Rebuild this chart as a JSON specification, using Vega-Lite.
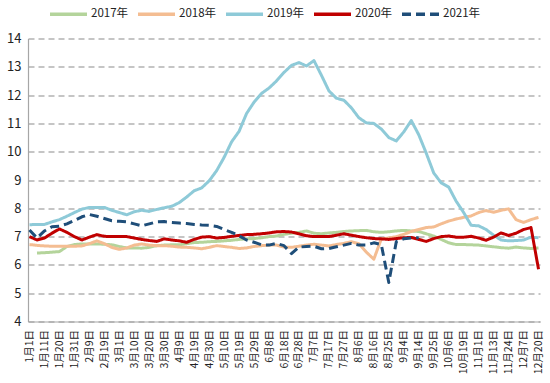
{
  "$schema": "https://vega.github.io/schema/vega-lite/v6.json",
  "width": 512,
  "height": 283,
  "autosize": {"type": "none"},
  "padding": {"left": 28, "top": 38.5, "right": 10, "bottom": 61.5},
  "config": {
    "view": {"stroke": null},
    "font": "Noto Sans CJK SC",
    "legend": {"labelFont": "Noto Sans CJK SC"}
  },
  "data": {
    "values": [
      {"d": "1月1日", "2017年": null, "2018年": 6.72, "2019年": 7.42, "2020年": 7.0, "2021年": 7.23},
      {"d": "1月6日", "2017年": 6.42, "2018年": 6.69, "2019年": 7.43, "2020年": 6.88, "2021年": 6.95},
      {"d": "1月11日", "2017年": 6.43, "2018年": 6.67, "2019年": 7.43, "2020年": 6.95, "2021年": 7.2},
      {"d": "1月15日", "2017年": 6.45, "2018年": 6.66, "2019年": 7.52, "2020年": 7.12, "2021年": 7.35},
      {"d": "1月20日", "2017年": 6.47, "2018年": 6.66, "2019年": 7.6, "2020年": 7.27, "2021年": 7.37},
      {"d": "1月25日", "2017年": 6.65, "2018年": 6.66, "2019年": 7.72, "2020年": 7.15, "2021年": 7.45},
      {"d": "1月31日", "2017年": 6.72, "2018年": 6.66, "2019年": 7.85, "2020年": 7.0, "2021年": 7.57},
      {"d": "2月4日", "2017年": 6.74, "2018年": 6.67, "2019年": 7.97, "2020年": 6.88, "2021年": 7.7},
      {"d": "2月9日", "2017年": 6.74, "2018年": 6.75, "2019年": 8.03, "2020年": 6.98, "2021年": 7.78},
      {"d": "2月14日", "2017年": 6.74, "2018年": 6.85, "2019年": 8.03, "2020年": 7.07, "2021年": 7.72},
      {"d": "2月19日", "2017年": 6.73, "2018年": 6.75, "2019年": 8.03, "2020年": 7.01, "2021年": 7.64},
      {"d": "2月24日", "2017年": 6.71, "2018年": 6.62, "2019年": 7.93, "2020年": 7.0, "2021年": 7.56},
      {"d": "3月1日", "2017年": 6.65, "2018年": 6.55, "2019年": 7.85, "2020年": 7.0, "2021年": 7.54},
      {"d": "3月5日", "2017年": 6.6, "2018年": 6.6, "2019年": 7.77, "2020年": 7.0, "2021年": 7.52},
      {"d": "3月10日", "2017年": 6.6, "2018年": 6.7, "2019年": 7.88, "2020年": 6.95, "2021年": 7.45},
      {"d": "3月15日", "2017年": 6.59, "2018年": 6.74, "2019年": 7.93, "2020年": 6.9, "2021年": 7.38},
      {"d": "3月20日", "2017年": 6.62, "2018年": 6.7, "2019年": 7.89, "2020年": 6.86, "2021年": 7.45},
      {"d": "3月25日", "2017年": 6.68, "2018年": 6.68, "2019年": 7.96, "2020年": 6.83, "2021年": 7.52},
      {"d": "3月30日", "2017年": 6.7, "2018年": 6.68, "2019年": 8.02, "2020年": 6.92, "2021年": 7.53},
      {"d": "4月4日", "2017年": 6.71, "2018年": 6.66, "2019年": 8.07, "2020年": 6.88, "2021年": 7.5},
      {"d": "4月9日", "2017年": 6.71, "2018年": 6.63, "2019年": 8.2, "2020年": 6.85, "2021年": 7.48},
      {"d": "4月14日", "2017年": 6.75, "2018年": 6.62, "2019年": 8.4, "2020年": 6.8, "2021年": 7.46},
      {"d": "4月19日", "2017年": 6.79, "2018年": 6.6, "2019年": 8.62, "2020年": 6.9, "2021年": 7.43},
      {"d": "4月24日", "2017年": 6.8, "2018年": 6.57, "2019年": 8.72, "2020年": 6.98, "2021年": 7.41},
      {"d": "4月30日", "2017年": 6.82, "2018年": 6.62, "2019年": 8.97, "2020年": 7.0, "2021年": 7.4},
      {"d": "5月5日", "2017年": 6.83, "2018年": 6.68, "2019年": 9.33, "2020年": 6.95, "2021年": 7.36},
      {"d": "5月10日", "2017年": 6.85, "2018年": 6.65, "2019年": 9.8, "2020年": 6.97, "2021年": 7.25},
      {"d": "5月14日", "2017年": 6.87, "2018年": 6.62, "2019年": 10.35, "2020年": 7.01, "2021年": 7.15},
      {"d": "5月19日", "2017年": 6.9, "2018年": 6.58, "2019年": 10.72, "2020年": 7.04, "2021年": 7.03},
      {"d": "5月24日", "2017年": 6.92, "2018年": 6.6, "2019年": 11.35, "2020年": 7.07, "2021年": 6.88},
      {"d": "5月29日", "2017年": 6.93, "2018年": 6.65, "2019年": 11.75, "2020年": 7.08, "2021年": 6.8},
      {"d": "6月3日", "2017年": 6.96, "2018年": 6.68, "2019年": 12.06, "2020年": 7.1, "2021年": 6.71},
      {"d": "6月8日", "2017年": 7.0, "2018年": 6.7, "2019年": 12.25, "2020年": 7.13, "2021年": 6.7},
      {"d": "6月13日", "2017年": 7.02, "2018年": 6.7, "2019年": 12.5, "2020年": 7.17, "2021年": 6.76},
      {"d": "6月18日", "2017年": 7.08, "2018年": 6.63, "2019年": 12.8, "2020年": 7.18, "2021年": 6.68},
      {"d": "6月23日", "2017年": 7.12, "2018年": 6.62, "2019年": 13.05, "2020年": 7.16, "2021年": 6.4},
      {"d": "6月28日", "2017年": 7.15, "2018年": 6.66, "2019年": 13.15, "2020年": 7.1, "2021年": 6.63},
      {"d": "7月2日", "2017年": 7.2, "2018年": 6.7, "2019年": 13.03, "2020年": 7.03, "2021年": 6.65},
      {"d": "7月7日", "2017年": 7.12, "2018年": 6.73, "2019年": 13.22, "2020年": 7.0, "2021年": 6.66},
      {"d": "7月12日", "2017年": 7.1, "2018年": 6.7, "2019年": 12.7, "2020年": 7.0, "2021年": 6.57},
      {"d": "7月17日", "2017年": 7.13, "2018年": 6.67, "2019年": 12.15, "2020年": 7.0, "2021年": 6.58},
      {"d": "7月22日", "2017年": 7.15, "2018年": 6.72, "2019年": 11.89, "2020年": 7.05, "2021年": 6.64},
      {"d": "7月27日", "2017年": 7.18, "2018年": 6.76, "2019年": 11.82, "2020年": 7.1, "2021年": 6.7},
      {"d": "8月1日", "2017年": 7.2, "2018年": 6.82, "2019年": 11.55, "2020年": 7.05, "2021年": 6.76},
      {"d": "8月6日", "2017年": 7.21, "2018年": 6.75, "2019年": 11.2, "2020年": 7.0, "2021年": 6.7},
      {"d": "8月11日", "2017年": 7.22, "2018年": 6.45, "2019年": 11.02, "2020年": 6.96, "2021年": 6.7},
      {"d": "8月16日", "2017年": 7.17, "2018年": 6.2, "2019年": 11.0, "2020年": 6.93, "2021年": 6.78},
      {"d": "8月20日", "2017年": 7.15, "2018年": 6.92, "2019年": 10.8, "2020年": 6.92, "2021年": 6.72},
      {"d": "8月25日", "2017年": 7.17, "2018年": 6.95, "2019年": 10.5, "2020年": 6.9, "2021年": 5.38},
      {"d": "8月30日", "2017年": 7.2, "2018年": 7.0, "2019年": 10.38, "2020年": 6.93, "2021年": 6.82},
      {"d": "9月4日", "2017年": 7.22, "2018年": 7.08, "2019年": 10.7, "2020年": 6.96, "2021年": 6.92},
      {"d": "9月9日", "2017年": 7.2, "2018年": 7.18, "2019年": 11.1, "2020年": 6.97, "2021年": 6.95},
      {"d": "9月14日", "2017年": 7.18, "2018年": 7.25, "2019年": 10.6, "2020年": 6.9, "2021年": 6.96},
      {"d": "9月19日", "2017年": 7.1, "2018年": 7.32, "2019年": 9.95, "2020年": 6.83, "2021年": null},
      {"d": "9月25日", "2017年": 7.02, "2018年": 7.34, "2019年": 9.25, "2020年": 6.93, "2021年": null},
      {"d": "9月30日", "2017年": 6.9, "2018年": 7.45, "2019年": 8.9, "2020年": 7.0, "2021年": null},
      {"d": "10月6日", "2017年": 6.78, "2018年": 7.55, "2019年": 8.75, "2020年": 7.02, "2021年": null},
      {"d": "10月12日", "2017年": 6.72, "2018年": 7.62, "2019年": 8.25, "2020年": 6.98, "2021年": null},
      {"d": "10月19日", "2017年": 6.72, "2018年": 7.68, "2019年": 7.85, "2020年": 6.98, "2021年": null},
      {"d": "10月26日", "2017年": 6.71, "2018年": 7.73, "2019年": 7.4, "2020年": 7.01, "2021年": null},
      {"d": "11月1日", "2017年": 6.7, "2018年": 7.85, "2019年": 7.38, "2020年": 6.95, "2021年": null},
      {"d": "11月7日", "2017年": 6.67, "2018年": 7.92, "2019年": 7.25, "2020年": 6.87, "2021年": null},
      {"d": "11月13日", "2017年": 6.64, "2018年": 7.86, "2019年": 7.05, "2020年": 6.98, "2021年": null},
      {"d": "11月18日", "2017年": 6.61, "2018年": 7.93, "2019年": 6.88, "2020年": 7.13, "2021年": null},
      {"d": "11月24日", "2017年": 6.59, "2018年": 7.98, "2019年": 6.85, "2020年": 7.04, "2021年": null},
      {"d": "11月30日", "2017年": 6.63, "2018年": 7.6, "2019年": 6.86, "2020年": 7.12, "2021年": null},
      {"d": "12月7日", "2017年": 6.6, "2018年": 7.5, "2019年": 6.88, "2020年": 7.25, "2021年": null},
      {"d": "12月13日", "2017年": 6.58, "2018年": 7.6, "2019年": 6.98, "2020年": 7.32, "2021年": null},
      {"d": "12月20日", "2017年": 6.6, "2018年": 7.68, "2019年": 6.96, "2020年": 5.85, "2021年": null}
    ]
  },
  "transform": [
    {"fold": ["2017年", "2018年", "2019年", "2020年", "2021年"], "as": ["year", "value"]}
  ],
  "mark": {"type": "line", "strokeWidth": 3, "strokeJoin": "round", "strokeCap": "butt"},
  "encoding": {
    "x": {
      "field": "d",
      "type": "ordinal",
      "sort": null,
      "scale": {"type": "point", "padding": 0.2},
      "axis": {
        "title": null,
        "values": ["1月1日", "1月11日", "1月20日", "1月31日", "2月9日", "2月19日", "3月1日", "3月10日", "3月20日", "3月30日", "4月9日", "4月19日", "4月30日", "5月10日", "5月19日", "5月29日", "6月8日", "6月18日", "6月28日", "7月7日", "7月17日", "7月27日", "8月6日", "8月16日", "8月25日", "9月4日", "9月14日", "9月25日", "10月6日", "10月19日", "11月1日", "11月13日", "11月24日", "12月7日", "12月20日"],
        "labelAngle": -90,
        "labelFontSize": 10.5,
        "labelColor": "#222222",
        "labelPadding": 8,
        "labelOverlap": false,
        "ticks": false,
        "grid": false,
        "domainColor": "#a6a6a6",
        "domainWidth": 1.2
      }
    },
    "y": {
      "field": "value",
      "type": "quantitative",
      "scale": {"domain": [4, 14], "nice": false},
      "axis": {
        "title": null,
        "values": [4, 5, 6, 7, 8, 9, 10, 11, 12, 13, 14],
        "labelFontSize": 13,
        "labelColor": "#222222",
        "labelPadding": 7,
        "ticks": false,
        "grid": true,
        "gridColor": "#8c8c8c",
        "gridDash": [6, 4],
        "gridWidth": 1.2,
        "domainColor": "#a6a6a6",
        "domainWidth": 1.2
      }
    },
    "color": {
      "field": "year",
      "type": "nominal",
      "scale": {
        "domain": ["2017年", "2018年", "2019年", "2020年", "2021年"],
        "range": ["#b4d49b", "#f4bd92", "#8ecad8", "#c00000", "#1f4e79"]
      },
      "legend": {
        "title": null,
        "orient": "none",
        "direction": "horizontal",
        "legendX": 20,
        "legendY": -45,
        "symbolType": "stroke",
        "symbolSize": 1369,
        "symbolStrokeWidth": 3.5,
        "labelFontSize": 11.5,
        "labelColor": "#222222",
        "labelOffset": 2,
        "columnPadding": 2
      }
    },
    "strokeDash": {
      "field": "year",
      "type": "nominal",
      "scale": {
        "domain": ["2017年", "2018年", "2019年", "2020年", "2021年"],
        "range": [[1, 0], [1, 0], [1, 0], [1, 0], [9, 5]]
      },
      "legend": {
        "title": null,
        "orient": "none",
        "direction": "horizontal",
        "legendX": 20,
        "legendY": -45,
        "symbolType": "stroke",
        "symbolSize": 1369,
        "symbolStrokeWidth": 3.5,
        "labelFontSize": 11.5,
        "labelColor": "#222222",
        "labelOffset": 2,
        "columnPadding": 2
      }
    }
  }
}
